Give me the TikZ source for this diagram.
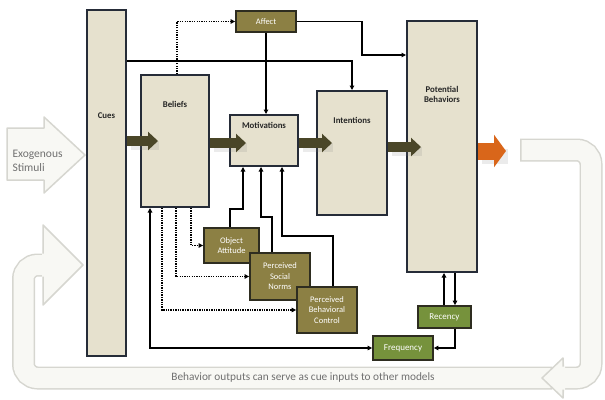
\documentclass[tikz,border=0pt]{standalone}
\usepackage{fontspec}
\setmainfont{Carlito}
\usetikzlibrary{arrows.meta}

\definecolor{tanfill}{HTML}{E6E1CE}
\definecolor{boxline}{HTML}{262C38}
\definecolor{olivefill}{HTML}{8C8044}
\definecolor{oliveline}{HTML}{2E2D20}
\definecolor{greenfill}{HTML}{76923C}
\definecolor{blkarrow}{HTML}{4A4628}
\definecolor{outarrow}{HTML}{D9661A}
\definecolor{bandfill}{HTML}{F8F8F4}
\definecolor{bandline}{HTML}{D6D6D0}
\definecolor{bandtext}{HTML}{707070}

\tikzset{
  stage/.style={draw=boxline, line width=2pt, fill=tanfill, inner sep=0pt},
  stagelbl/.style={font=\bfseries\fontsize{8.8}{10}\selectfont, text=black!85, align=center},
  factor/.style={draw=oliveline, line width=1.8pt, fill=olivefill, inner sep=0pt,
    text=white, align=center, font=\fontsize{8.5}{10.5}\selectfont},
  habit/.style={factor, fill=greenfill, font=\fontsize{9}{10.5}\selectfont},
  link/.style={line width=1.6pt, -{Triangle[length=4.5pt,width=4.5pt]}},
  dotlink/.style={link, dash pattern=on 1.3pt off 1.1pt},
  flow/.style={line width=10pt, draw=blkarrow, -{Triangle[length=10pt,width=18pt]}},
  flowshade/.style={line width=9pt, draw=black!50, opacity=.16},
  band/.style={line width=23pt, draw=bandline,
    postaction={draw=bandfill, line width=20pt, shorten <=1.5pt}},
}

\begin{document}
\begin{tikzpicture}[x=1pt,y=-1pt]
\useasboundingbox (0,0) rectangle (605,399);

% feedback loop
\draw[band, rounded corners=14pt] (552,378) -- (23.5,378) -- (23.5,265) -- (44,265);
\fill[bandfill] (42,254) -- (43,225) -- (83,265) -- (43,305) -- (42,276) -- cycle;
\draw[bandline, line width=1.5pt, line join=round] (43,253.5) -- (43,225) -- (83,265) -- (43,305) -- (43,276.5);
\node[font=\fontsize{11.3}{13}\selectfont, text=bandtext] (looptxt) at (303,377) {Behavior outputs can serve as cue inputs to other models};

\draw[band, rounded corners=14pt] (520,150) -- (591,150) -- (591,378) -- (564,378);
\fill[bandfill] (565,367) -- (563,358) -- (542,378) -- (563,398) -- (565,389) -- cycle;
\draw[bandline, line width=1.5pt, line join=round] (563,366.5) -- (563,358) -- (542,378) -- (563,398) -- (563,389.5);

% exogenous input
\filldraw[fill=bandfill, draw=bandline, line width=1.5pt, line join=round]
  (7,128) -- (44,128) -- (44,117) -- (85,155) -- (44,193) -- (44,180) -- (7,180) -- cycle;
\node[anchor=west, align=left, font=\fontsize{11.5}{13.5}\selectfont, text=bandtext] (exo) at (9,161) {Exogenous\\Stimuli};

% main stages
\node[stage, minimum width=39pt, minimum height=346pt] (cues) at (106.5,183) {};
\node[stage, minimum width=68pt, minimum height=132pt] (bel) at (175,141) {};
\node[stage, minimum width=68pt, minimum height=51pt] (mot) at (264,140.5) {};
\node[stage, minimum width=70pt, minimum height=124pt] (int) at (352,153) {};
\node[stage, minimum width=70pt, minimum height=251pt] (pot) at (442,146.5) {};
\node[stagelbl] (cuesL) at (106.5,116) {Cues};
\node[stagelbl] (belL) at (175,104) {Beliefs};
\node[stagelbl] (motL) at (264,125) {Motivations};
\node[stagelbl] (intL) at (352,120) {Intentions};
\node[stagelbl] (potL) at (442,94) {Potential\\Behaviors};

% antecedents
\node[factor, minimum width=60pt, minimum height=21pt] (aff) at (266,21.5) {Affect};
\node[factor, minimum width=55pt, minimum height=35pt] (oa) at (231.5,245.5) {Object\\Attitude};
\node[factor, minimum width=60pt, minimum height=47pt] (psn) at (280,276.5) {Perceived\\Social\\Norms};
\node[factor, minimum width=60pt, minimum height=46pt] (pbc) at (327,310) {Perceived\\Behavioral\\Control};
\node[habit, minimum width=53pt, minimum height=22pt] (rec) at (444.5,317) {Recency};
\node[habit, minimum width=60pt, minimum height=24pt] (freq) at (403,348) {Frequency};

% connectors
\draw[dotlink] (bel.north -| 177,0) |- (aff.west);
\draw[link] (cues.east |- 0,61) -| (int.north);
\draw[link] (aff.east) -- (362,21.5) |- (pot.west |- 0,55);
\draw[link] (aff.south) -- (aff.south |- mot.north);
\draw[link] (oa.north -| 230,0) |- (243,209) -- (mot.south -| 243,0);
\draw[link] (psn.north -| 272,0) |- (261,217) -- (mot.south -| 261,0);
\draw[link] (pbc.north -| 333,0) |- (282,236) -- (mot.south -| 282,0);
\draw[dotlink] (bel.south -| 191,0) |- (oa.west);
\draw[dotlink] (bel.south -| 176,0) |- (psn.west);
\draw[dotlink] (bel.south -| 162,0) |- (pbc.west);
\draw[link, {Triangle[length=4.5pt,width=4.5pt]}-{Triangle[length=4.5pt,width=4.5pt]}] (bel.south -| 150,0) |- (freq.west);
\draw[link] (rec.north -| 444,0) -- (pot.south -| 444,0);
\draw[link] (pot.south -| 455,0) -- (rec.north -| 455,0);
\draw[link] (rec.south -| 455,0) |- (freq.east);

% main flow
\draw[flowshade] ([xshift=4pt]cues.east |- 0,145) -- ++(28,0);
\draw[flowshade] ([xshift=4pt]bel.east |- 0,147) -- ++(33,0);
\draw[flowshade] ([xshift=4pt]mot.east |- 0,147) -- ++(30,0);
\draw[flowshade] ([xshift=4pt]int.east |- 0,151) -- ++(30,0);
\draw[flowshade, line width=15pt] ([xshift=4pt]pot.east |- 0,156) -- ++(26,0);
\draw[flow] (cues.east |- bel.west) -- ++(31,0);
\draw[flow] (bel.east |- 0,143) -- ++(36,0);
\draw[flow] (mot.east |- 0,143) -- ++(33,0);
\draw[flow] (int.east |- 0,147) -- ++(33,0);
\draw[flow, draw=outarrow, line width=17pt, -{Triangle[length=12pt,width=32pt]}] (pot.east |- 0,151) -- ++(28,0);
\end{tikzpicture}
\end{document}
